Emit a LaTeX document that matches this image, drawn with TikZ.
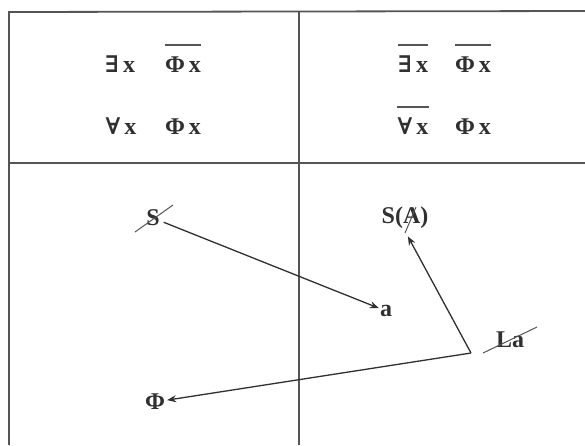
\documentclass[tikz,border=0pt]{standalone}
\usepackage{fontspec}
\setmainfont{Liberation Serif}
\newfontfamily\qf{DejaVu Serif}
\usetikzlibrary{arrows.meta}
\definecolor{ink}{HTML}{303030}
\definecolor{rul}{HTML}{555555}
\tikzset{
  grid/.style={draw=rul,line width=1.8pt},
  txt/.style={inner sep=0pt,anchor=base,text=ink,font=\fontsize{24}{28}\selectfont\bfseries},
  lbl/.style={inner sep=2pt,text=ink,font=\fontsize{24}{28}\selectfont\bfseries},
  ovl/.style={draw=rul,line width=1.3pt},
  arr/.style={draw=ink,line width=1.3pt,-{Stealth[length=9pt,width=7pt,inset=3pt]}},
  strike/.style={draw=rul,line width=1pt},
}
\newcommand{\qex}{{\qf\bfseries\fontsize{23}{28}\selectfont ∃}}
\newcommand{\qall}{{\qf\bfseries\fontsize{23}{28}\selectfont ∀}}
\begin{document}
\begin{tikzpicture}[x=1pt,y=-1pt]
\useasboundingbox (0,0) rectangle (585,445);
\fill[white] (0,0) rectangle (585,445);
% frame
\draw[grid] (9,445) -- (9,12) -- (585,11);
\draw[grid] (299,11.5) -- (299,445);
\draw[grid] (9,163) -- (585,163);
% top-left cell
\node[txt] (q1) at (120,72) {\qex\,x};
\node[txt] (f1) at (183,72) {Φ\,x};
\node[txt] (q2) at (121,134) {\qall\,x};
\node[txt] (f2) at (183,134) {Φ\,x};
\draw[ovl] ([yshift=27pt]f1.base west) -- ([yshift=27pt]f1.base east);
% top-right cell
\node[txt] (q3) at (413,72) {\qex\,x};
\node[txt] (f3) at (473,72) {Φ\,x};
\node[txt] (q4) at (413,134) {\qall\,x};
\node[txt] (f4) at (473,134) {Φ\,x};
\draw[ovl] ([yshift=27pt]q3.base west) -- ([yshift=27pt]q3.base east);
\draw[ovl] ([yshift=27pt]f3.base west) -- ([yshift=27pt]f3.base east);
\draw[ovl] ([yshift=27pt]q4.base west) -- ([yshift=27pt]q4.base east);
% bottom cells
\node[lbl] (S) at (153,218) {S};
\draw[strike] (135,232) -- (173,205);
\node[lbl,inner sep=1pt] (a) at (386,311) {a};
\node[lbl] (SA) at (405,218) {S(A)};
\draw[strike] (405,233) -- (416,207);
\node[lbl] (La) at (510,340) {La};
\draw[strike] (483,353) -- (537,327);
\node[lbl] (Phi) at (155,402) {Φ};
\coordinate (c) at (471,353);
\draw[arr,shorten <=2pt] (S) -- (a);
\draw[arr,shorten >=6pt] (c) -- (SA.south);
\draw[arr] (c) -- (Phi);
\end{tikzpicture}
\end{document}
